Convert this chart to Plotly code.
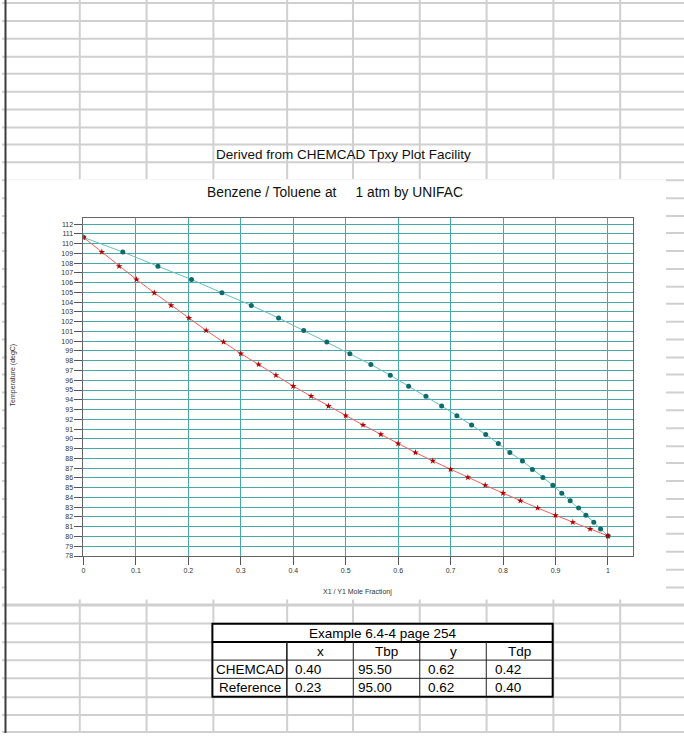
import plotly.graph_objects as go

# ---------------- data ----------------
X_LIQ = [0.0, 0.035, 0.068, 0.101, 0.135, 0.167, 0.201, 0.234, 0.267, 0.300, 0.334,
         0.367, 0.400, 0.434, 0.467, 0.500, 0.533, 0.567, 0.600, 0.633, 0.666,
         0.700, 0.733, 0.766, 0.800, 0.833, 0.866, 0.900, 0.933, 0.966, 1.0]
Y_VAP = [0.0, 0.075, 0.142, 0.206, 0.264, 0.320, 0.372, 0.420, 0.464, 0.508, 0.548,
         0.585, 0.620, 0.653, 0.683, 0.712, 0.740, 0.767, 0.791, 0.813, 0.837,
         0.856, 0.876, 0.895, 0.912, 0.928, 0.944, 0.958, 0.973, 0.986, 1.0]
TEMP = [110.64, 109.14, 107.68, 106.32, 104.96, 103.67, 102.38, 101.10, 99.93, 98.73, 97.62,
        96.52, 95.40, 94.37, 93.36, 92.38, 91.42, 90.46, 89.52, 88.60, 87.74,
        86.87, 86.05, 85.25, 84.44, 83.66, 82.92, 82.17, 81.46, 80.77, 80.06]

X_TICKS = [0, 0.1, 0.2, 0.3, 0.4, 0.5, 0.6, 0.7, 0.8, 0.9, 1.0]
X_TICK_LABELS = ["0", "0.1", "0.2", "0.3", "0.4", "0.5", "0.6", "0.7", "0.8", "0.9", "1"]
Y_TICKS = list(range(78, 113))

SHEET_TITLE = "Derived from CHEMCAD Tpxy Plot Facility"
CHART_TITLE = "Benzene / Toluene at\u00a0\u00a0\u00a0\u00a0 1 atm by UNIFAC"
X_TITLE = "X1 / Y1 Mole Fractionj"
Y_TITLE = "Temperature (degC)"

TABLE_TITLE = "Example 6.4-4 page 254"
TABLE_HEADERS = ["", "x", "Tbp", "y", "Tdp"]
ROW_NAMES = ["CHEMCAD", "Reference"]
CHEMCAD_VALS = [0.40, 95.50, 0.62, 0.42]
REFERENCE_VALS = [0.23, 95.00, 0.62, 0.40]

# ---------------- geometry helpers ----------------
W, H = 684, 736


def fx(p):
    return p / W


def fy(p):
    return 1 - p / H


FONT = "Liberation Sans, Arial, sans-serif"

fig = go.Figure()
fig.add_trace(go.Scatter(
    x=Y_VAP, y=TEMP, mode="lines+markers", showlegend=False,
    line=dict(color="#62c0c0", width=1),
    marker=dict(color="#0f6a6a", size=5, symbol="circle"),
))
fig.add_trace(go.Scatter(
    x=X_LIQ, y=TEMP, mode="lines+markers", showlegend=False,
    line=dict(color="#ff5c5c", width=1),
    marker=dict(color="#b00000", size=5, symbol="star"),
))

shapes = []
GRID = "#d0d0d0"
# spreadsheet row lines
rows_top = [3.3 + 17.77 * k for k in range(35)]
rows_bottom = [607.7, 626.4, 644.6, 662.8, 681.1, 699.5, 717.7, 735]
for yy in rows_top + rows_bottom:
    yy = round(yy)
    shapes.append(dict(type="line", xref="paper", yref="paper", layer="below",
                       x0=0, x1=1, y0=fy(yy), y1=fy(yy),
                       line=dict(color=GRID, width=2)))
# spreadsheet column lines
for xx in [78.5, 145, 212, 286, 352.5, 419, 486, 553, 619.5]:
    xx = round(xx)
    shapes.append(dict(type="line", xref="paper", yref="paper", layer="below",
                       x0=fx(xx), x1=fx(xx), y0=0, y1=1,
                       line=dict(color=GRID, width=2)))
# chart object (white) covering the grid
shapes.append(dict(type="rect", xref="paper", yref="paper", layer="below",
                   x0=fx(4.5), x1=fx(666), y0=fy(602), y1=fy(180),
                   fillcolor="white", line=dict(width=0)))
# dark left border of the sheet
shapes.append(dict(type="line", xref="paper", yref="paper", layer="above",
                   x0=fx(3.5), x1=fx(3.5), y0=0, y1=1,
                   line=dict(color="#3c3c3c", width=2)))

# ---------------- table ----------------
TX = [211, 285.7, 352.3, 419, 485.7, 552.3]
TY = [626.4, 644.6, 662.8, 681.1, 699.5]
shapes.append(dict(type="rect", xref="paper", yref="paper", layer="above",
                   x0=fx(TX[0]), x1=fx(TX[-1]), y0=fy(TY[-1]), y1=fy(TY[0]),
                   fillcolor="white", line=dict(color="black", width=2)))
for yy in TY[2:4]:
    shapes.append(dict(type="line", xref="paper", yref="paper", layer="above",
                       x0=fx(TX[0]), x1=fx(TX[-1]), y0=fy(yy), y1=fy(yy),
                       line=dict(color="#202020", width=1)))
shapes.append(dict(type="line", xref="paper", yref="paper", layer="above",
                   x0=fx(TX[0]), x1=fx(TX[-1]), y0=fy(TY[1]), y1=fy(TY[1]),
                   line=dict(color="black", width=2)))
for i, xx in enumerate(TX[1:-1]):
    shapes.append(dict(type="line", xref="paper", yref="paper", layer="above",
                       x0=fx(xx), x1=fx(xx), y0=fy(TY[-1]), y1=fy(TY[1]),
                       line=dict(color="#202020", width=1.6 if i == 0 else 1)))

annotations = []


def text(s, x, y, size, color="black", angle=0, xanchor="center"):
    annotations.append(dict(text=s, x=fx(x), y=fy(y), xref="paper", yref="paper",
                            showarrow=False, xanchor=xanchor, yanchor="middle",
                            textangle=angle,
                            font=dict(family=FONT, size=size, color=color)))


text(SHEET_TITLE, 342, 155, 13.5, "#111")
text(CHART_TITLE, 334.3, 193.5, 13.8, "#111")
text(X_TITLE, 357, 594, 7, "#333")
text(Y_TITLE, 12, 376, 7, "#333", angle=-90)

text(TABLE_TITLE, (TX[0] + TX[-1]) / 2, (TY[0] + TY[1]) / 2 + 0.5, 13.5)
for j, h in enumerate(TABLE_HEADERS):
    if h:
        text(h, (TX[j] + TX[j + 1]) / 2, (TY[1] + TY[2]) / 2 + 0.5, 13.5)
for r, (name, vals) in enumerate(zip(ROW_NAMES, [CHEMCAD_VALS, REFERENCE_VALS])):
    ymid = (TY[2 + r] + TY[3 + r]) / 2 + 0.5
    text(name, (TX[0] + TX[1]) / 2 + 0.5, ymid, 13.5)
    for j, v in enumerate(vals):
        text(f"{v:.2f}", (TX[j + 1] + TX[j + 2]) / 2 - 12, ymid, 13.5)

AX = dict(showline=True, linecolor="#666666", linewidth=1, mirror=True,
          ticks="outside", ticklen=8, tickcolor="#555555", tickwidth=1,
          tickfont=dict(family=FONT, size=7, color="#333333"),
          showgrid=True, gridcolor="#47aaaa", gridwidth=1, zeroline=False,
          tickmode="array")

fig.update_layout(
    width=W, height=H, autosize=False,
    margin=dict(l=0, r=0, t=0, b=0),
    paper_bgcolor="white", plot_bgcolor="white",
    xaxis=dict(domain=[fx(81.7), fx(632.7)], range=[0, 1.0475],
               tickvals=X_TICKS, ticktext=X_TICK_LABELS, **AX),
    yaxis=dict(domain=[fy(558.3), fy(219.3)], range=[78, 112.58],
               tickvals=Y_TICKS, ticktext=[str(v) for v in Y_TICKS], **AX),
    shapes=shapes, annotations=annotations,
    showlegend=False,
)

fig.write_html(
    "out.html",
    config={"displayModeBar": False},
    post_script="document.body.style.margin='0';document.body.style.overflow='hidden';",
)
